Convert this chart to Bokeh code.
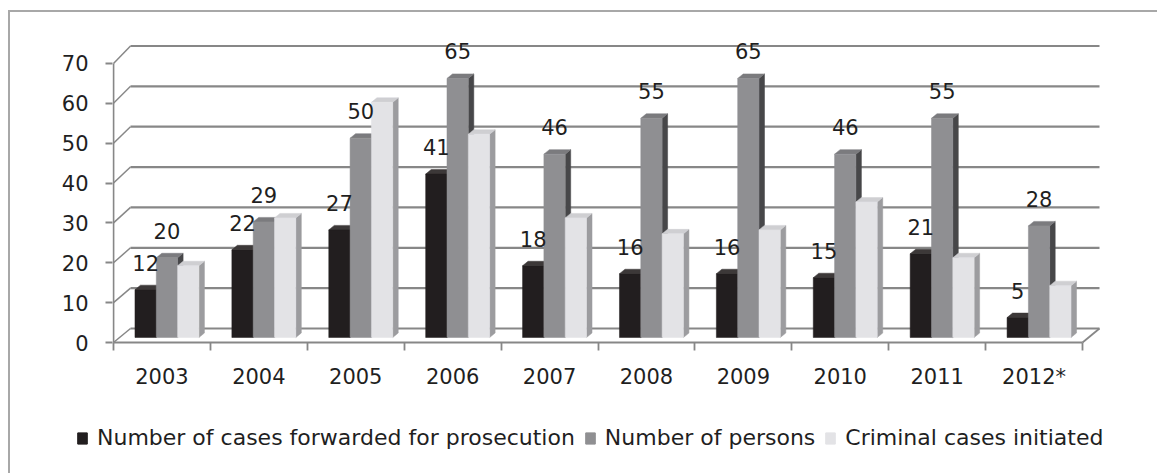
from bokeh.plotting import figure
from bokeh.layouts import column
from bokeh.models import (Range1d, FixedTicker, Legend, LegendItem,
                          ColumnDataSource, InlineStyleSheet)
from bokeh.core.properties import value
from bokeh.embed import file_html
from bokeh.resources import INLINE

# ---- data -------------------------------------------------------------
years = ["2003", "2004", "2005", "2006", "2007",
         "2008", "2009", "2010", "2011", "2012*"]
forwarded = [12, 22, 27, 41, 18, 16, 16, 15, 21, 5]
persons = [20, 29, 50, 65, 46, 55, 65, 46, 55, 28]
initiated = [18, 30, 59, 51, 30, 26, 27, 34, 20, 13]
series_names = ["Number of cases forwarded for prosecution",
                "Number of persons",
                "Criminal cases initiated"]
y_ticks = [0, 10, 20, 30, 40, 50, 60, 70]

# ---- geometry / style -------------------------------------------------
W = 1157
CHART_H, LEGEND_H = 400, 73
B_LEFT, B_RIGHT, B_TOP, B_BOTTOM = 112, 50, 35, 56
FRAME_W = W - B_LEFT - B_RIGHT
FRAME_H = CHART_H - B_TOP - B_BOTTOM
PX_PER_CAT = 96.9
PX_PER_UNIT = 3.986

x0 = -0.5 - 1.0 / PX_PER_CAT
x1 = x0 + FRAME_W / PX_PER_CAT
y0 = -2.0 / PX_PER_UNIT
y1 = y0 + FRAME_H / PX_PER_UNIT

XU = 1.0 / PX_PER_CAT      # x data units per pixel
YU = 1.0 / PX_PER_UNIT     # y data units per pixel

WALL_DX = 17 * XU


def back(v):
    # height of a value on the back wall (slight perspective)
    return v + (14 + 3.5 * v / 70.0) * YU


GRID = "#878787"
TEXT = "#1f1f1f"
FONT = "DejaVu Sans"

BAR_W = 0.22
FRONT_DX, FRONT_DY = 5 * XU, 5 * YU
TOP_DX, TOP_DY = 5.5 * XU, 4.5 * YU

colors = [
    # front, top, side
    ("#221e1f", "#3c3838", "#121010"),
    ("#8f8f92", "#7b7b7e", "#474749"),
    ("#e3e3e6", "#cfcfd2", "#9c9c9f"),
]

p = figure(width=W, height=CHART_H, output_backend="svg", toolbar_location=None,
           x_range=Range1d(x0, x1), y_range=Range1d(y0, y1),
           min_border_left=B_LEFT, min_border_right=B_RIGHT,
           min_border_top=B_TOP, min_border_bottom=B_BOTTOM,
           background_fill_color="white", border_fill_color="white",
           outline_line_color=None, frame_align=False)
p.xgrid.visible = False
p.ygrid.visible = False

# ---- walls and floor --------------------------------------------------
n = len(years)
left_edge, right_edge = -0.5, n - 0.5
p.segment(x0=[left_edge + WALL_DX] * len(y_ticks), y0=[back(v) for v in y_ticks],
          x1=[right_edge + WALL_DX] * len(y_ticks), y1=[back(v) for v in y_ticks],
          line_color=GRID, line_width=2.2)
p.segment(x0=[left_edge] * len(y_ticks), y0=y_ticks,
          x1=[left_edge + WALL_DX] * len(y_ticks), y1=[back(v) for v in y_ticks],
          line_color=GRID, line_width=1.5)
p.segment(x0=[left_edge], y0=[0], x1=[left_edge], y1=[max(y_ticks)],
          line_color=GRID, line_width=1.8)
p.segment(x0=[left_edge, right_edge], y0=[0, 0],
          x1=[right_edge, right_edge + WALL_DX], y1=[0, back(0)],
          line_color=GRID, line_width=1.8)

# ---- 3-D bars ---------------------------------------------------------
front_sources = []
for s, vals in enumerate([forwarded, persons, initiated]):
    front_c, top_c, side_c = colors[s]
    left = [i - 1.5 * BAR_W + s * BAR_W + FRONT_DX for i in range(n)]
    right = [l + BAR_W for l in left]
    bottom = [FRONT_DY] * n
    top = [v + FRONT_DY for v in vals]

    side_xs = [[r, r, r + TOP_DX, r + TOP_DX] for r in right]
    side_ys = [[b, t, t + TOP_DY, b + TOP_DY] for b, t in zip(bottom, top)]
    p.patches(side_xs, side_ys, fill_color=side_c, line_color=side_c, line_width=0.5)

    top_xs = [[l, r, r + TOP_DX, l + TOP_DX] for l, r in zip(left, right)]
    top_ys = [[t, t, t + TOP_DY, t + TOP_DY] for t in top]
    p.patches(top_xs, top_ys, fill_color=top_c, line_color=top_c, line_width=0.5)

    src = ColumnDataSource(dict(left=left, right=right, bottom=bottom, top=top))
    p.quad(left="left", right="right", bottom="bottom", top="top", source=src,
           fill_color=front_c, line_color=front_c, line_width=0.5)
    front_sources.append(src)

# ---- value labels (first two series) ----------------------------------
for s, vals in enumerate([forwarded, persons]):
    xs = [i - 1.5 * BAR_W + s * BAR_W + FRONT_DX + BAR_W / 2 for i in range(n)]
    ys = [v + FRONT_DY for v in vals]
    p.text(x=xs, y=ys, text=[str(v) for v in vals], y_offset=-27,
           text_align="center", text_baseline="middle",
           text_font=value(FONT), text_font_size="21px", text_color=TEXT)

# ---- axes ---------------------------------------------------------------
xa = p.xaxis[0]
xa.ticker = FixedTicker(ticks=list(range(n)),
                        minor_ticks=[i - 0.5 for i in range(n + 1)])
xa.major_label_overrides = {i: y for i, y in enumerate(years)}
xa.axis_line_color = None
xa.major_tick_line_color = None
xa.major_tick_out = 0
xa.major_tick_in = 0
xa.minor_tick_line_color = GRID
xa.minor_tick_line_width = 1.8
xa.minor_tick_out = 6
xa.minor_tick_in = 2
xa.major_label_standoff = 14
xa.major_label_text_font = FONT
xa.major_label_text_font_size = "21px"
xa.major_label_text_color = TEXT

ya = p.yaxis[0]
ya.ticker = FixedTicker(ticks=y_ticks, minor_ticks=[])
ya.axis_line_color = None
ya.major_tick_line_color = GRID
ya.major_tick_line_width = 1.8
ya.major_tick_out = 7
ya.major_tick_in = 0
ya.major_label_standoff = 17
ya.major_label_text_font = FONT
ya.major_label_text_font_size = "21px"
ya.major_label_text_color = TEXT

# ---- legend strip below the chart --------------------------------------
# The strip shows the same front-face quads, with ranges that keep the bars
# themselves out of view, so only the legend is drawn.
lg = figure(width=W, height=LEGEND_H, output_backend="svg", toolbar_location=None,
            x_range=Range1d(-100, -99), y_range=Range1d(-100, -99),
            x_axis_location=None, y_axis_location=None,
            min_border=0, min_border_left=0, min_border_right=0,
            min_border_top=0, min_border_bottom=0,
            outline_line_color=None, frame_align=False,
            background_fill_color="white", border_fill_color="white")
lg.xgrid.visible = False
lg.ygrid.visible = False
items = []
for s, name in enumerate(series_names):
    r = lg.quad(left="left", right="right", bottom="bottom", top="top",
                source=front_sources[s],
                fill_color=colors[s][0], line_color=colors[s][0])
    items.append(LegendItem(label=name, renderers=[r]))
legend = Legend(items=items, orientation="horizontal",
                location=(76, 23), margin=0, padding=0,
                border_line_color=None, background_fill_alpha=0,
                glyph_width=12, glyph_height=14, label_standoff=9, spacing=9,
                label_text_font=FONT, label_text_font_size="22px",
                label_text_color=TEXT)
lg.add_layout(legend, "center")

layout = column(p, lg, spacing=0)

# ---- outer chart border (left and top edges) --------------------------
layout.stylesheets = [InlineStyleSheet(css="""
:host { position: relative; }
:host::after {
  content: "";
  position: absolute;
  left: 8px; top: 10px; width: 1300px; height: 600px;
  border-left: 2px solid #a8a8a8;
  border-top: 2px solid #a8a8a8;
  pointer-events: none;
}
""")]

open("out.html", "w").write(file_html(layout, INLINE))
